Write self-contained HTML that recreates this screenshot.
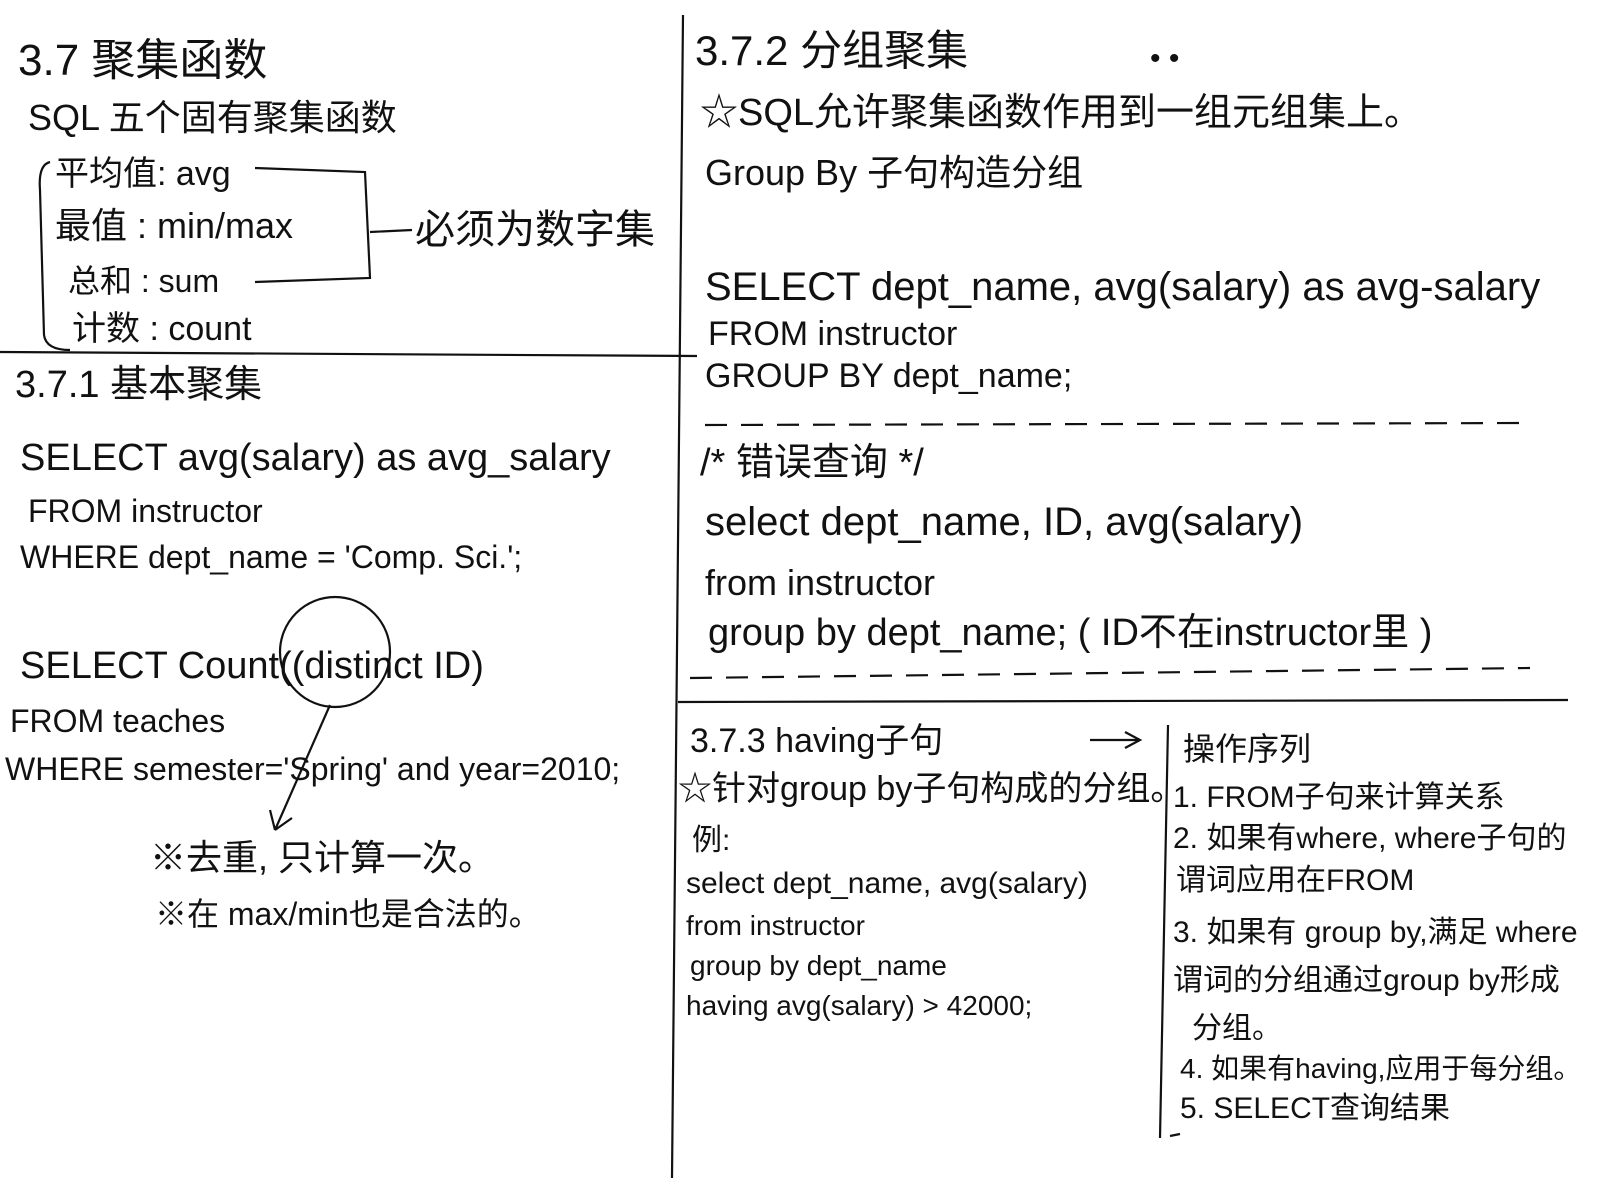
<!DOCTYPE html>
<html><head><meta charset="utf-8"><style>
html,body{margin:0;padding:0;background:#fff;}
svg{display:block}
text{font-family:"Liberation Sans","Noto Sans CJK SC",sans-serif;fill:#111;}
</style></head><body>
<svg width="1600" height="1200" viewBox="0 0 1600 1200" xmlns="http://www.w3.org/2000/svg">
<g stroke="#111" stroke-width="2.2" fill="none">
<line x1="0" y1="352" x2="697" y2="356"/>
<line x1="683" y1="15" x2="672" y2="1178"/>
<line x1="678" y1="702" x2="1568" y2="700"/>
<line x1="705" y1="425" x2="1530" y2="423" stroke-dasharray="22,14"/>
<line x1="690" y1="678" x2="1530" y2="668" stroke-dasharray="22,14"/>
<line x1="1168" y1="725" x2="1160" y2="1138"/>
<line x1="1170" y1="1136" x2="1180" y2="1134"/>
<path d="M50 162 Q38 165 40 190 L44 335 Q46 350 70 350"/>
<path d="M255 168 L365 172 L370 278 L255 282"/>
<line x1="370" y1="232" x2="412" y2="230"/>
<ellipse cx="335" cy="652" rx="55" ry="55"/>
<path d="M330 705 L275 830 M275 830 L270 810 M275 830 L292 818"/>
<path d="M1090 740 L1140 740 M1125 732 L1140 740 L1125 748"/>
</g>
<text x="18" y="75" font-size="44">3.7 聚集函数</text>
<text x="28" y="130" font-size="36">SQL 五个固有聚集函数</text>
<text x="55" y="185" font-size="34">平均值: avg</text>
<text x="55" y="238" font-size="36">最值 : min/max</text>
<text x="68" y="292" font-size="32">总和 : sum</text>
<text x="72" y="340" font-size="34">计数 : count</text>
<text x="415" y="243" font-size="40">必须为数字集</text>
<text x="15" y="397" font-size="38">3.7.1 基本聚集</text>
<text x="20" y="470" font-size="38">SELECT avg(salary) as avg_salary</text>
<text x="28" y="522" font-size="32">FROM    instructor</text>
<text x="20" y="568" font-size="32">WHERE  dept_name = 'Comp. Sci.';</text>
<text x="20" y="678" font-size="38">SELECT Count((distinct ID)</text>
<text x="10" y="732" font-size="32">FROM    teaches</text>
<text x="5" y="780" font-size="32">WHERE  semester='Spring'  and  year=2010;</text>
<text x="150" y="870" font-size="36">※去重, 只计算一次。</text>
<text x="155" y="925" font-size="32">※在 max/min也是合法的。</text>
<text x="695" y="65" font-size="42">3.7.2 分组聚集</text>
<text x="1150" y="68" font-size="30">• •</text>
<text x="700" y="125" font-size="38">☆SQL允许聚集函数作用到一组元组集上。</text>
<text x="705" y="185" font-size="36">Group By 子句构造分组</text>
<text x="705" y="300" font-size="40">SELECT  dept_name, avg(salary) as avg-salary</text>
<text x="708" y="345" font-size="34">FROM instructor</text>
<text x="705" y="387" font-size="34">GROUP BY  dept_name;</text>
<text x="700" y="475" font-size="38">/* 错误查询 */</text>
<text x="705" y="535" font-size="40">select dept_name, ID, avg(salary)</text>
<text x="705" y="595" font-size="36">from  instructor</text>
<text x="708" y="645" font-size="38">group by dept_name;   ( ID不在instructor里 )</text>
<text x="690" y="752" font-size="34">3.7.3  having子句</text>
<text x="678" y="800" font-size="34">☆针对group by子句构成的分组。</text>
<text x="692" y="850" font-size="30">例:</text>
<text x="686" y="893" font-size="30">select dept_name, avg(salary)</text>
<text x="686" y="935" font-size="28">from instructor</text>
<text x="690" y="975" font-size="28">group by dept_name</text>
<text x="686" y="1015" font-size="28">having  avg(salary) &gt; 42000;</text>
<text x="1183" y="760" font-size="32">操作序列</text>
<text x="1173" y="807" font-size="30">1. FROM子句来计算关系</text>
<text x="1173" y="848" font-size="30">2. 如果有where, where子句的</text>
<text x="1176" y="890" font-size="30">谓词应用在FROM</text>
<text x="1173" y="942" font-size="30">3. 如果有 group by,满足 where</text>
<text x="1173" y="990" font-size="30">谓词的分组通过group by形成</text>
<text x="1192" y="1038" font-size="30">分组。</text>
<text x="1180" y="1078" font-size="28">4. 如果有having,应用于每分组。</text>
<text x="1180" y="1118" font-size="30">5. SELECT查询结果</text>
</svg>
</body></html>
